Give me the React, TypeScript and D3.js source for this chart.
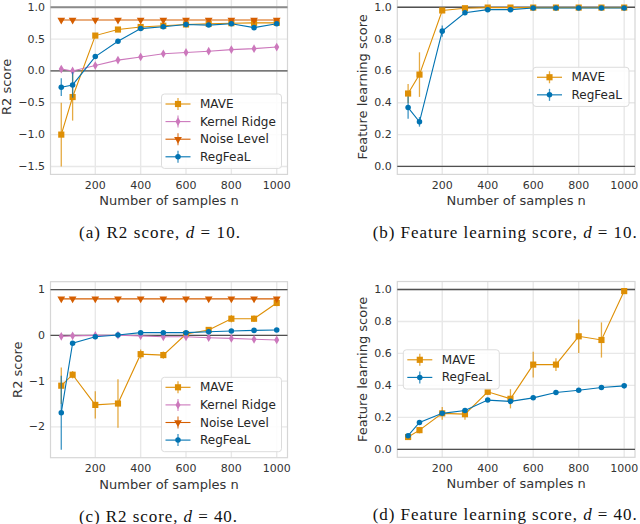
import * as d3 from 'd3';
import * as React from 'react';

const samples = [50, 100, 200, 300, 400, 500, 600, 700, 800, 900, 1000];
const xTicks = [200, 400, 600, 800, 1000];

// (a) R2 score, d = 10
const maveR2d10 = [-1.0, -0.41, 0.555, 0.65, 0.69, 0.71, 0.73, 0.74, 0.75, 0.755, 0.755];
const maveR2d10Err = [0.5, 0.37, 0.02, 0.02, 0.015, 0.015, 0.01, 0.01, 0.01, 0.01, 0.01];
const kernelR2d10 = [0.03, 0.0, 0.085, 0.17, 0.22, 0.27, 0.29, 0.31, 0.335, 0.35, 0.375];
const kernelR2d10Err = [0.03, 0.02, 0.02, 0.02, 0.02, 0.02, 0.02, 0.02, 0.02, 0.02, 0.02];
const noiseR2d10 = [0.8, 0.8, 0.8, 0.8, 0.8, 0.8, 0.8, 0.8, 0.8, 0.8, 0.8];
const noiseR2d10Err = [0.01, 0.01, 0.01, 0.01, 0.01, 0.01, 0.01, 0.01, 0.01, 0.01, 0.01];
const regR2d10 = [-0.255, -0.22, 0.225, 0.465, 0.665, 0.695, 0.73, 0.72, 0.74, 0.68, 0.74];
const regR2d10Err = [0.14, 0.2, 0.03, 0.02, 0.02, 0.015, 0.015, 0.015, 0.015, 0.02, 0.02];

// (b) feature learning score, d = 10
const maveFLd10 = [0.458, 0.577, 0.98, 0.994, 0.998, 0.998, 0.998, 0.998, 0.998, 0.998, 0.998];
const maveFLd10Err = [0.06, 0.14, 0.01, 0.005, 0.003, 0.003, 0.003, 0.003, 0.003, 0.003, 0.003];
const regFLd10 = [0.37, 0.28, 0.85, 0.965, 0.985, 0.985, 0.995, 0.995, 0.995, 0.995, 0.995];
const regFLd10Err = [0.07, 0.03, 0.035, 0.01, 0.005, 0.005, 0.003, 0.003, 0.003, 0.003, 0.003];

// (c) R2 score, d = 40
const maveR2d40 = [-1.1, -0.86, -1.52, -1.49, -0.41, -0.43, 0.03, 0.12, 0.365, 0.365, 0.71];
const maveR2d40Err = [0.4, 0.08, 0.3, 0.53, 0.1, 0.08, 0.05, 0.04, 0.08, 0.07, 0.07];
const kernelR2d40 = [-0.02, -0.01, 0.0, 0.005, -0.01, -0.03, -0.03, -0.05, -0.065, -0.085, -0.1];
const kernelR2d40Err = [0.03, 0.02, 0.02, 0.02, 0.02, 0.02, 0.02, 0.02, 0.02, 0.02, 0.02];
const noiseR2d40 = [0.8, 0.8, 0.8, 0.8, 0.8, 0.8, 0.8, 0.8, 0.8, 0.8, 0.8];
const noiseR2d40Err = [0.01, 0.01, 0.01, 0.01, 0.01, 0.01, 0.01, 0.01, 0.01, 0.01, 0.01];
const regR2d40 = [-1.69, -0.17, -0.03, 0.01, 0.06, 0.06, 0.06, 0.08, 0.095, 0.11, 0.117];
const regR2d40Err = [0.81, 0.04, 0.02, 0.01, 0.01, 0.01, 0.01, 0.01, 0.01, 0.01, 0.01];

// (d) feature learning score, d = 40
const maveFLd40 = [0.077, 0.12, 0.225, 0.22, 0.36, 0.316, 0.53, 0.53, 0.707, 0.684, 0.99];
const maveFLd40Err = [0.015, 0.02, 0.04, 0.035, 0.02, 0.06, 0.08, 0.04, 0.105, 0.11, 0.015];
const regFLd40 = [0.085, 0.168, 0.225, 0.243, 0.308, 0.3, 0.322, 0.355, 0.37, 0.387, 0.397];
const regFLd40Err = [0.01, 0.01, 0.01, 0.01, 0.01, 0.01, 0.01, 0.01, 0.01, 0.01, 0.01];

const r2Ticks10 = [-1.5, -1.0, -0.5, 0.0, 0.5, 1.0];
const r2Ticks40 = [-2, -1, 0, 1];
const flTicks = [0.0, 0.2, 0.4, 0.6, 0.8, 1.0];

const series = {
  MAVE: { color: '#de8f05', symbol: d3.symbolSquare, size: 38, rotate: 0 },
  'Kernel Ridge': { color: '#cc78bc', symbol: d3.symbolDiamond, size: 22, rotate: 0 },
  'Noise Level': { color: '#d55e00', symbol: d3.symbolTriangle, size: 26, rotate: 180 },
  RegFeaL: { color: '#0173b2', symbol: d3.symbolCircle, size: 24, rotate: 0 },
};

const font = 'DejaVu Sans, sans-serif';

const panels = [
  {
    box: [50.5, 287.5, -0.7, 174.4],
    yDomain: [-1.625, 1.125],
    yTicks: r2Ticks10,
    fmt: '.1f',
    ylabel: 'R2 score',
    topLine: { color: '#8a8a8a', width: 2 },
    legend: 'lower right',
    lines: [
      ['MAVE', maveR2d10, maveR2d10Err],
      ['Kernel Ridge', kernelR2d10, kernelR2d10Err],
      ['Noise Level', noiseR2d10, noiseR2d10Err],
      ['RegFeaL', regR2d10, regR2d10Err],
    ],
    caption: ['(a) R2 score, ', '10.'],
    captionPos: [159.5, 232, 161],
  },
  {
    box: [397.3, 635, -0.7, 174.4],
    yDomain: [-0.05, 1.05],
    yTicks: flTicks,
    fmt: '.1f',
    ylabel: 'Feature learning score',
    legend: 'center right',
    lines: [
      ['MAVE', maveFLd10, maveFLd10Err],
      ['RegFeaL', regFLd10, regFLd10Err],
    ],
    caption: ['(b) Feature learning score, ', '10.'],
    captionPos: [504.7, 231.5, 264],
  },
  {
    box: [50.5, 287.5, 281.7, 457.7],
    yDomain: [-2.675, 1.175],
    yTicks: r2Ticks40,
    fmt: 'd',
    ylabel: 'R2 score',
    legend: 'lower right',
    lines: [
      ['MAVE', maveR2d40, maveR2d40Err],
      ['Kernel Ridge', kernelR2d40, kernelR2d40Err],
      ['Noise Level', noiseR2d40, noiseR2d40Err],
      ['RegFeaL', regR2d40, regR2d40Err],
    ],
    caption: ['(c) R2 score, ', '40.'],
    captionPos: [158, 515.5, 158],
  },
  {
    box: [397.3, 635, 281.5, 457.3],
    yDomain: [-0.05, 1.05],
    yTicks: flTicks,
    fmt: '.1f',
    ylabel: 'Feature learning score',
    legend: 'center left',
    lines: [
      ['MAVE', maveFLd40, maveFLd40Err],
      ['RegFeaL', regFLd40, regFLd40Err],
    ],
    caption: ['(d) Feature learning score, ', '40.'],
    captionPos: [504.7, 514, 264],
  },
];

const marker = (g, name, x, y) => {
  const s = series[name];
  g.append('path')
    .attr('d', d3.symbol().type(s.symbol).size(s.size)())
    .attr('transform', `translate(${x},${y}) rotate(${s.rotate})`)
    .attr('fill', s.color);
};

const drawPanel = (svg, p) => {
  const [left, right, top, bottom] = p.box;
  const x = d3.scaleLinear().domain([2.5, 1047.5]).range([left, right]);
  const y = d3.scaleLinear().domain(p.yDomain).range([bottom, top]);
  const g = svg.append('g');

  // grid
  g.selectAll('.gx').data(xTicks).enter().append('line')
    .attr('x1', (d) => x(d)).attr('x2', (d) => x(d)).attr('y1', top).attr('y2', bottom)
    .attr('stroke', '#e8e8e8').attr('stroke-width', 1.4);
  g.selectAll('.gy').data(p.yTicks).enter().append('line')
    .attr('x1', left).attr('x2', right).attr('y1', (d) => y(d)).attr('y2', (d) => y(d))
    .attr('stroke', '#e8e8e8').attr('stroke-width', 1.4);

  g.append('rect').attr('x', left).attr('y', top).attr('width', right - left).attr('height', bottom - top)
    .attr('fill', 'none').attr('stroke', '#d6d6d6').attr('stroke-width', 1.2);

  // reference lines at 0 and 1
  const tl = p.topLine || { color: '#505050', width: 1.3 };
  g.append('line').attr('x1', left).attr('x2', right).attr('y1', y(1)).attr('y2', y(1))
    .attr('stroke', tl.color).attr('stroke-width', tl.width);
  g.append('line').attr('x1', left).attr('x2', right).attr('y1', y(0)).attr('y2', y(0))
    .attr('stroke', '#505050').attr('stroke-width', 1.2);

  // tick labels
  const fmt = d3.format(p.fmt);
  g.selectAll('.xt').data(xTicks).enter().append('text')
    .attr('x', (d) => x(d)).attr('y', bottom + 11)
    .attr('text-anchor', 'middle').attr('dominant-baseline', 'central')
    .style('font-family', font).style('font-size', '11px').attr('fill', '#333')
    .text((d) => d);
  const yt = g.selectAll('.yt').data(p.yTicks).enter().append('text')
    .attr('x', left - 5.5).attr('y', (d) => y(d))
    .attr('text-anchor', 'end').attr('dominant-baseline', 'central')
    .style('font-family', font).style('font-size', '11px').attr('fill', '#333')
    .text((d) => fmt(d).replace('-', '\u2212'));
  let maxW = 0;
  yt.each(function () { maxW = Math.max(maxW, this.getComputedTextLength()); });

  g.append('text')
    .attr('x', (left + right) / 2).attr('y', bottom + 26.5)
    .attr('text-anchor', 'middle').attr('dominant-baseline', 'central')
    .style('font-family', font).style('font-size', '13px').attr('fill', '#333')
    .text('Number of samples n');
  const lx = left - 5.5 - maxW - 11.5;
  const ly = (top + bottom) / 2;
  g.append('text')
    .attr('transform', `translate(${lx},${ly}) rotate(-90)`)
    .attr('text-anchor', 'middle').attr('dominant-baseline', 'central')
    .style('font-family', font).style('font-size', '13px').attr('fill', '#333')
    .text(p.ylabel);

  // series
  p.lines.forEach(([name, vals, errs]) => {
    const s = series[name];
    const sg = g.append('g');
    samples.forEach((n, i) => {
      sg.append('line').attr('x1', x(n)).attr('x2', x(n))
        .attr('y1', y(vals[i] - errs[i])).attr('y2', y(vals[i] + errs[i]))
        .attr('stroke', s.color).attr('stroke-width', 1.3).attr('opacity', 0.75);
    });
    const line = d3.line().x((d, i) => x(samples[i])).y((d) => y(d));
    sg.append('path').attr('d', line(vals)).attr('fill', 'none')
      .attr('stroke', s.color).attr('stroke-width', 1.1);
    samples.forEach((n, i) => marker(sg, name, x(n), y(vals[i])));
  });

  // legend
  const rowH = 17.6;
  const w = p.lines.length > 2 ? 120 : 96;
  const h = p.lines.length * rowH + 4;
  let bx = right - 6 - w;
  let by = bottom - 6 - h;
  if (p.legend === 'center right') by = (top + bottom) / 2 - h / 2;
  if (p.legend === 'center left') { bx = left + 6; by = (top + bottom) / 2 - h / 2; }
  const lg = g.append('g');
  lg.append('rect').attr('x', bx).attr('y', by).attr('width', w).attr('height', h).attr('rx', 3)
    .attr('fill', 'white').attr('fill-opacity', 0.85).attr('stroke', '#dcdcdc').attr('stroke-width', 1);
  p.lines.forEach(([name], i) => {
    const s = series[name];
    const cy = by + 10 + i * rowH;
    lg.append('line').attr('x1', bx + 4).attr('x2', bx + 29).attr('y1', cy).attr('y2', cy)
      .attr('stroke', s.color).attr('stroke-width', 1.1);
    lg.append('line').attr('x1', bx + 16.5).attr('x2', bx + 16.5).attr('y1', cy - 6).attr('y2', cy + 6)
      .attr('stroke', s.color).attr('stroke-width', 1.3).attr('opacity', 0.75);
    marker(lg, name, bx + 16.5, cy);
    lg.append('text').attr('x', bx + 38.5).attr('y', cy)
      .attr('dominant-baseline', 'central')
      .style('font-family', font).style('font-size', '12px').attr('fill', '#262626')
      .text(name);
  });

  // caption
  const [cx, cy, cw] = p.captionPos;
  const cap = svg.append('text')
    .attr('x', cx).attr('y', cy).attr('text-anchor', 'middle').attr('dominant-baseline', 'central')
    .attr('textLength', cw).attr('lengthAdjust', 'spacing')
    .style('font-family', 'Liberation Serif, serif').style('font-size', '17px').attr('fill', '#111');
  cap.append('tspan').text(p.caption[0]);
  cap.append('tspan').style('font-style', 'italic').text('d');
  cap.append('tspan').text(' = ' + p.caption[1]);
};

const App = () => {
  const ref = React.useRef<SVGSVGElement | null>(null);

  React.useEffect(() => {
    if (!ref.current) return;
    const svg = d3.select(ref.current);
    svg.selectAll('*').remove();
    panels.forEach((p) => drawPanel(svg, p));
  }, []);

  return (
    <svg
      ref={ref}
      width={640}
      height={524}
      style={{ position: 'absolute', left: 0, top: 0, background: 'white' }}
    />
  );
};

export default App;
